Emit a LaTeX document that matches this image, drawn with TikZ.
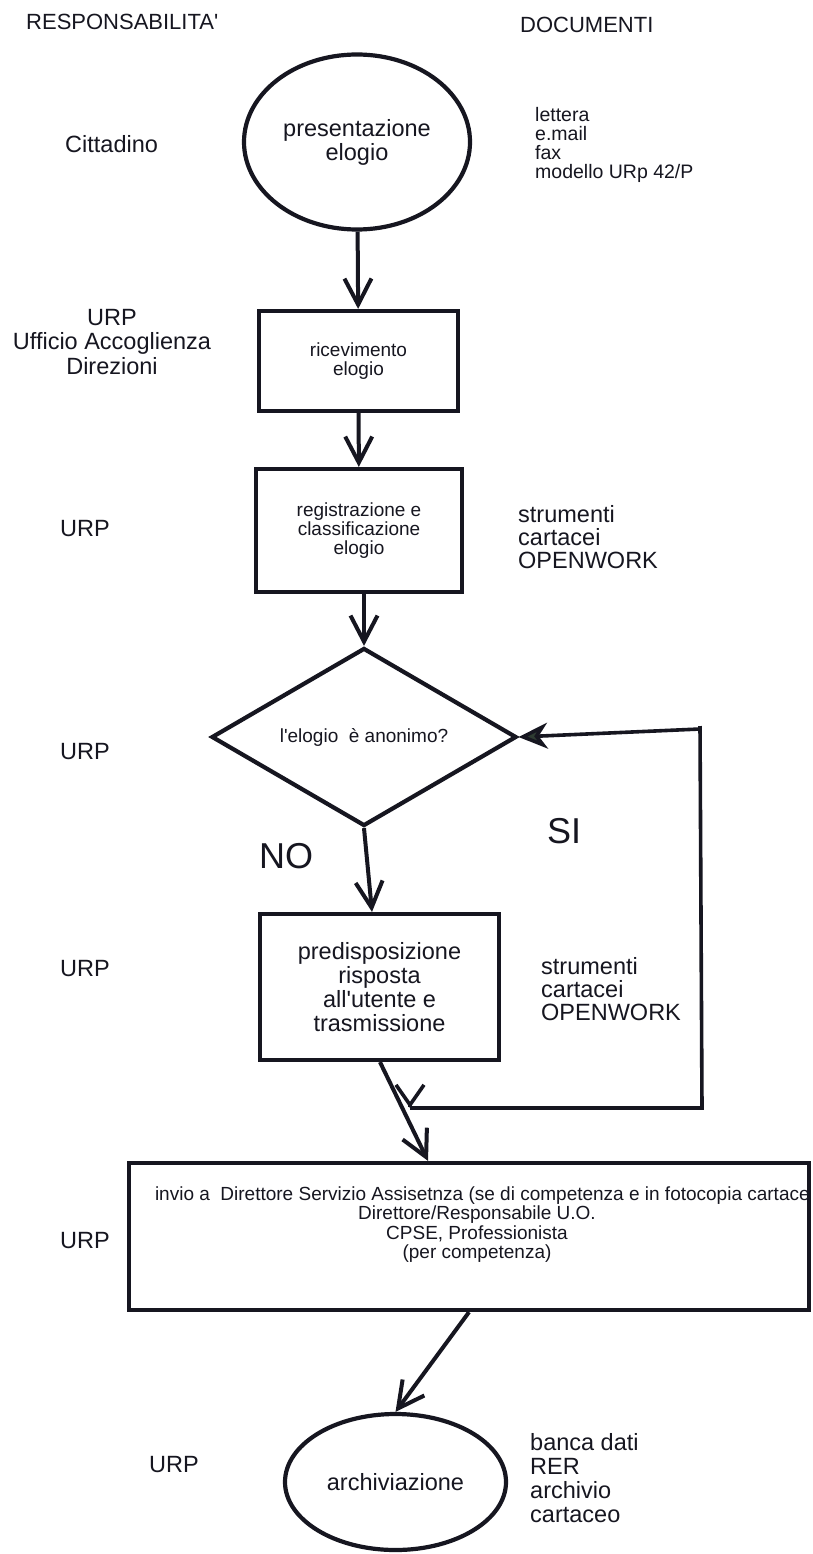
\documentclass[tikz,border=0pt]{standalone}
\usepackage{fontspec}
\setmainfont{Liberation Sans}
\usetikzlibrary{shapes.geometric,arrows.meta}
\definecolor{ink}{RGB}{22,22,32}
\definecolor{tipfill}{RGB}{46,60,50}
\begin{document}
\begin{tikzpicture}[x=1pt,y=-1pt,
  every node/.style={inner sep=0pt, text=ink},
  hdr/.style={font=\fontsize{22}{24}\selectfont},
  big/.style={font=\fontsize{23.5}{24}\selectfont},
  small/.style={font=\fontsize{19}{19.5}\selectfont},
  yesno/.style={font=\fontsize{36}{40}\selectfont},
  shapeline/.style={draw=ink, line width=4.2pt},
  stepbox/.style={shapeline, rectangle, align=center},
  termbox/.style={shapeline, ellipse, align=center},
  decision/.style={shapeline, diamond, aspect=1.7},
  conn/.style={draw=ink, line width=4pt, -{Straight Barb[length=26pt,width=27pt]}},
  fbline/.style={draw=ink, line width=3.6pt},
  fbtip/.style={fbline, -{Stealth[length=29pt,width=26pt,inset=9pt,fill=tipfill]}},
  jointip/.style={fbline, -{Straight Barb[length=20pt,width=28pt]}}
]
\fill[white] (0,0) rectangle (813,1554);
\useasboundingbox (0,0) rectangle (813,1554);

% column headings
\node[hdr, anchor=base west] (resp) at (26,30) {RESPONSABILITA\textquotesingle};
\node[hdr, anchor=base west] (docs) at (520,33) {DOCUMENTI};

% responsibilities (left column)
\node[big, anchor=base west] (rCitt) at (65,153) {Cittadino};
\node[big, anchor=north, align=center, font=\fontsize{23.5}{24.5}\selectfont] (rUff) at (112,309) {URP\\Ufficio Accoglienza\\Direzioni};
\node[big, anchor=base] (rUrpA) at (85,536) {URP};
\node[big, anchor=base] (rUrpB) at (85,759) {URP};
\node[big, anchor=base] (rUrpC) at (85,976) {URP};
\node[big, anchor=base] (rUrpD) at (85,1248) {URP};
\node[big, anchor=base] (rUrpE) at (174,1472) {URP};

% documents (right column)
\node[anchor=north west, align=left, font=\fontsize{19.5}{19}\selectfont] (dMezzi) at (535,107) {lettera\\e.mail\\fax\\modello URp 42/P};
\node[big, anchor=north west, align=left, font=\fontsize{23.5}{23}\selectfont] (dStrA) at (518,505) {strumenti\\cartacei\\OPENWORK};
\node[big, anchor=north west, align=left, font=\fontsize{23.5}{23}\selectfont] (dStrB) at (541,957) {strumenti\\cartacei\\OPENWORK};
\node[big, anchor=north west, align=left] (dArch) at (530,1433) {banca dati\\RER\\archivio\\cartaceo};

% flow
\node[termbox, big, minimum width=226pt, minimum height=175pt] (pres) at (357,142) {presentazione\\elogio};
\node[stepbox, small, minimum width=199pt, minimum height=100pt] (ricev) at (358.5,361) {ricevimento\\elogio};
\node[stepbox, font=\fontsize{19}{19}\selectfont, minimum width=206pt, minimum height=123pt] (regist) at (359,530.5) {registrazione e\\classificazione\\elogio};
\node[decision, small, minimum width=305pt, minimum height=178pt] (anon) at (364,737) {l\textquotesingle elogio\ \ è anonimo?};
\node[stepbox, big, minimum width=239pt, minimum height=146pt] (pred) at (379.5,987) {predisposizione\\risposta\\all\textquotesingle utente e\\trasmissione};
\node[stepbox, minimum width=680pt, minimum height=147pt] (invio) at (469,1236.5) {};
\node[small, anchor=north, align=center] (invioTxt) at (477,1186.4) {\makebox[644pt][l]{invio a\ \ Direttore Servizio Assisetnza (se di competenza e in fotocopia cartace}\\Direttore/Responsabile U.O.\\CPSE, Professionista\\(per competenza)};
\node[termbox, big, minimum width=221pt, minimum height=136pt] (arch) at (395.5,1482) {archiviazione};

% answer labels
\node[yesno, anchor=base west] (lblNo) at (259,868) {NO};
\node[yesno, anchor=base west] (lblSi) at (547,843) {SI};

% main connectors
\draw[conn] (pres) -- (ricev);
\draw[conn] (ricev) -- (regist);
\draw[conn] (anon.north |- regist.south) -- (anon.north);
\draw[conn] (anon.south) -- ([xshift=-7.5pt]pred.north);
\draw[conn] ([xshift=0.5pt]pred.south) -- ([xshift=-41pt]invio.north);
\draw[conn] (invio.south) -- (arch.north);

% the "SI" return loop
\coordinate (fbA) at (700,729);
\coordinate (fbB) at (702,1108);
\coordinate (fbJ) at (410,1108);
\draw[fbline] (700,726) -- (fbB) -- (fbJ);
\draw[fbtip] (fbA) -- (anon.east);
\draw[jointip] ([yshift=1pt]fbJ) -- (fbJ);
\end{tikzpicture}
\end{document}
